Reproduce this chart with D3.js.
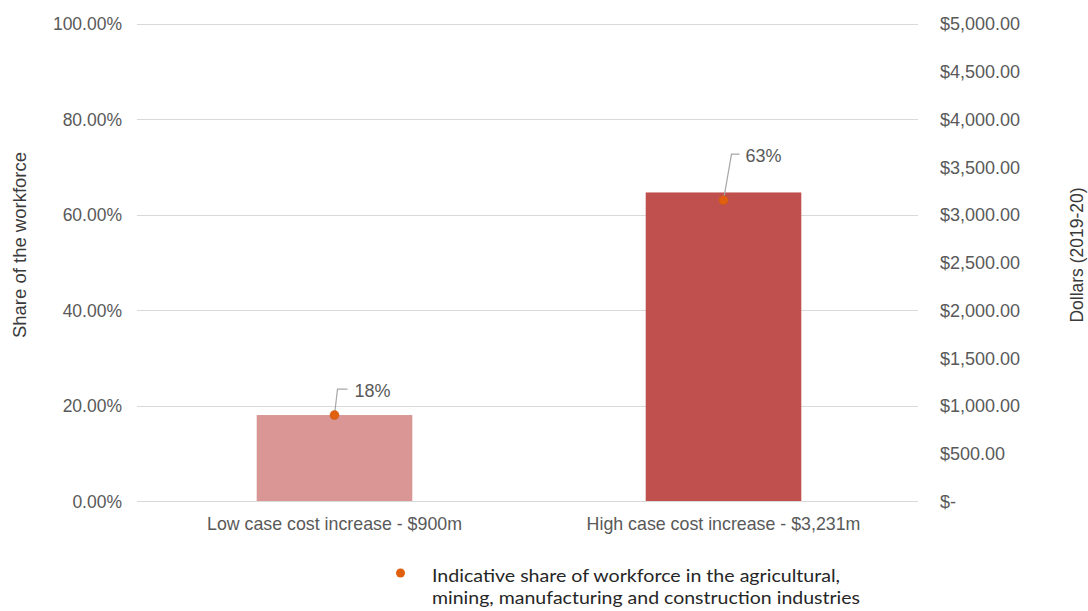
<!DOCTYPE html>
<html>
<head>
<meta charset="utf-8">
<script src="https://cdn.jsdelivr.net/npm/d3@7"></script>
<style>
  html, body { margin: 0; padding: 0; background: #fff; }
  svg { display: block; font-family: "Liberation Sans", Arial, sans-serif; }
</style>
</head>
<body>
<svg id="chart" width="1088" height="611"></svg>
<script>
// Cost scenarios and their values
const categories = ["Low case cost increase - $900m", "High case cost increase - $3,231m"];
const costs = [900, 3231];            // dollars (millions), right axis
const shares = [0.18, 0.63];          // share of workforce, left axis
const shareLabels = ["18%", "63%"];
const leftTicks = [0, 0.2, 0.4, 0.6, 0.8, 1.0];
const rightTicks = [0, 500, 1000, 1500, 2000, 2500, 3000, 3500, 4000, 4500, 5000];
const barColors = ["#d99694", "#c0504d"];
const legendLines = ["Indicative share of workforce in the agricultural,",
                     "mining, manufacturing and construction industries"];

const svg = d3.select("#chart");
const plotLeft = 140, plotRight = 918, plotTop = 23.5, plotBottom = 501;

const x = d3.scaleBand().domain(categories).range([plotLeft, plotRight]).padding(0);
const yShare = d3.scaleLinear().domain([0, 1]).range([plotBottom, plotTop]);
const yCost = d3.scaleLinear().domain([0, 5000]).range([plotBottom, plotTop]);

const textColor = "#595959";
const titleColor = "#3a3a3a";

// Gridlines at left-axis ticks
svg.append("g")
  .selectAll("line")
  .data(leftTicks)
  .join("line")
  .attr("x1", plotLeft - 3).attr("x2", plotRight)
  .attr("y1", d => Math.round(yShare(d)) + 0.5)
  .attr("y2", d => Math.round(yShare(d)) + 0.5)
  .attr("stroke", "#d9d9d9").attr("stroke-width", 1);

// Left axis labels
const leftAxis = d3.axisLeft(yShare).tickValues(leftTicks)
  .tickFormat(d => (d * 100).toFixed(2) + "%").tickSize(0).tickPadding(0);
const gl = svg.append("g").attr("transform", `translate(${plotLeft - 18},0)`).call(leftAxis);
gl.select(".domain").remove();
gl.selectAll("text").attr("fill", textColor).attr("dy", "0.36em")
  .style("font-size", "17.5px")
  .style("font-family", "'Liberation Sans', Arial, sans-serif");

// Right axis labels
const rightAxis = d3.axisRight(yCost).tickValues(rightTicks)
  .tickFormat(d => d === 0 ? "$-" : "$" + d3.format(",.2f")(d)).tickSize(0).tickPadding(0);
const gr = svg.append("g").attr("transform", `translate(${plotRight + 22},0)`).call(rightAxis);
gr.select(".domain").remove();
gr.selectAll("text").attr("fill", textColor).attr("dy", "0.36em")
  .style("font-size", "18px")
  .style("font-family", "'Liberation Sans', Arial, sans-serif");

// Bars (right axis, dollars)
const barW = x.bandwidth() * 0.4;
svg.append("g")
  .selectAll("rect")
  .data(categories)
  .join("rect")
  .attr("x", d => x(d) + x.bandwidth() / 2 - barW / 2)
  .attr("width", barW)
  .attr("y", (d, i) => yCost(costs[i]))
  .attr("height", (d, i) => plotBottom - yCost(costs[i]))
  .attr("fill", (d, i) => barColors[i]);

// Category labels
svg.append("g")
  .selectAll("text")
  .data(categories)
  .join("text")
  .attr("x", d => x(d) + x.bandwidth() / 2)
  .attr("y", 530)
  .attr("text-anchor", "middle")
  .attr("fill", textColor)
  .style("font-size", "17.8px")
  .text(d => d);

// Workforce share points with leader lines and labels
const leader = [
  { rise: 26, bend: 3, end: 13, tx: 20 },
  { rise: 46, bend: 8, end: 16, tx: 22 }
];
const pts = svg.append("g");
categories.forEach((c, i) => {
  const cx = x(c) + x.bandwidth() / 2;
  const cy = yShare(shares[i]);
  const L = leader[i];
  const ly = cy - L.rise;
  pts.append("path")
    .attr("d", `M${cx},${cy} L${cx + L.bend},${ly} L${cx + L.end},${ly}`)
    .attr("fill", "none").attr("stroke", "#a6a6a6").attr("stroke-width", 1.2);
  pts.append("text")
    .attr("x", cx + L.tx).attr("y", ly + 8)
    .attr("fill", textColor).style("font-size", "18px")
    .text(shareLabels[i]);
  pts.append("circle")
    .attr("cx", cx).attr("cy", cy).attr("r", 4.5)
    .attr("fill", "#e0600f").attr("stroke", "#c55a11").attr("stroke-width", 0.5);
});

// Axis titles
svg.append("text")
  .attr("transform", `translate(26,245) rotate(-90)`)
  .attr("text-anchor", "middle").attr("fill", titleColor)
  .style("font-size", "18.5px").text("Share of the workforce");
svg.append("text")
  .attr("transform", `translate(1083,255) rotate(-90)`)
  .attr("text-anchor", "middle").attr("fill", titleColor)
  .style("font-size", "17.5px").text("Dollars (2019-20)");

// Legend
const lg = svg.append("g");
lg.append("circle").attr("cx", 400.5).attr("cy", 573).attr("r", 4.5).attr("fill", "#e0600f");
lg.selectAll("text")
  .data(legendLines)
  .join("text")
  .attr("x", 432)
  .attr("y", (d, i) => 582 + i * 22)
  .attr("fill", "#262626")
  .style("font-size", "17px")
  .style("font-family", "Lato, 'Open Sans', sans-serif")
  .attr("textLength", (d, i) => i === 0 ? 408 : 428)
  .attr("lengthAdjust", "spacingAndGlyphs")
  .text(d => d);
</script>
</body>
</html>
